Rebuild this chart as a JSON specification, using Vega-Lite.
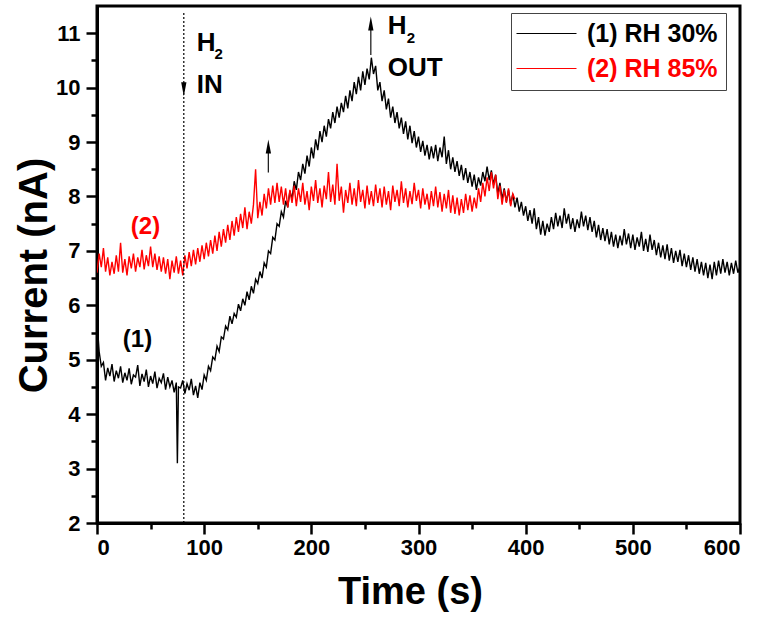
{
 "$schema": "https://vega.github.io/schema/vega-lite/v6.json",
 "width": 643,
 "height": 517,
 "autosize": "none",
 "padding": {"left": 97, "top": 6, "right": 27, "bottom": 98},
 "background": "white",
 "config": {
  "font": "Liberation Sans",
  "view": {"stroke": "black", "strokeWidth": 3},
  "axis": {"labelFont": "Liberation Sans", "labelFontWeight": "bold", "labelFontSize": 22, "labelColor": "black", "domainColor": "black", "domainWidth": 3, "tickColor": "black", "tickWidth": 2.5, "grid": false, "titleFont": "Liberation Sans", "titleFontWeight": "bold", "titleColor": "black"}
 },
 "datasets": {
  "black": [
   {"t":0,"c":5.72},{"t":2,"c":5.15},{"t":4,"c":4.88},{"t":6,"c":4.95},{"t":8,"c":4.62},{"t":10,"c":4.85},{"t":12,"c":4.70},{"t":14,"c":4.92},{"t":16,"c":4.60},{"t":18,"c":4.80},
   {"t":20,"c":4.66},{"t":22,"c":4.88},{"t":24,"c":4.58},{"t":26,"c":4.76},{"t":28,"c":4.62},{"t":30,"c":4.84},{"t":32,"c":4.55},{"t":34,"c":4.72},{"t":36,"c":4.68},{"t":38,"c":4.90},
   {"t":40,"c":4.52},{"t":42,"c":4.74},{"t":44,"c":4.60},{"t":46,"c":4.82},{"t":48,"c":4.50},{"t":50,"c":4.70},{"t":52,"c":4.56},{"t":54,"c":4.78},{"t":56,"c":4.48},{"t":58,"c":4.66},
   {"t":60,"c":4.58},{"t":62,"c":4.75},{"t":64,"c":4.45},{"t":66,"c":4.68},{"t":68,"c":4.50},{"t":70,"c":4.62},{"t":72,"c":4.40},{"t":74,"c":4.58},{"t":75,"c":3.10},{"t":76,"c":4.50},{"t":78,"c":4.48},
   {"t":80,"c":4.62},{"t":82,"c":4.38},{"t":84,"c":4.56},{"t":86,"c":4.44},{"t":88,"c":4.65},{"t":90,"c":4.35},{"t":92,"c":4.52},{"t":94,"c":4.30},{"t":96,"c":4.58},{"t":98,"c":4.45},
   {"t":100,"c":4.72},{"t":102,"c":4.62},{"t":104,"c":4.88},{"t":106,"c":4.80},{"t":108,"c":5.05},{"t":110,"c":5.00},{"t":112,"c":5.25},{"t":114,"c":5.15},{"t":116,"c":5.42},{"t":118,"c":5.38},
   {"t":120,"c":5.62},{"t":122,"c":5.55},{"t":124,"c":5.80},{"t":126,"c":5.66},{"t":128,"c":5.85},{"t":130,"c":5.78},{"t":132,"c":6.02},{"t":134,"c":5.90},{"t":136,"c":6.12},{"t":138,"c":6.00},
   {"t":140,"c":6.25},{"t":142,"c":6.10},{"t":144,"c":6.35},{"t":146,"c":6.22},{"t":148,"c":6.48},{"t":150,"c":6.40},{"t":152,"c":6.62},{"t":154,"c":6.50},{"t":156,"c":6.78},{"t":158,"c":6.70},
   {"t":160,"c":7.00},{"t":162,"c":6.95},{"t":164,"c":7.25},{"t":166,"c":7.20},{"t":168,"c":7.50},{"t":170,"c":7.45},{"t":172,"c":7.72},{"t":174,"c":7.62},{"t":176,"c":7.92},{"t":178,"c":7.80},
   {"t":180,"c":8.10},{"t":182,"c":7.95},{"t":184,"c":8.28},{"t":186,"c":8.12},{"t":188,"c":8.45},{"t":190,"c":8.30},{"t":192,"c":8.60},{"t":194,"c":8.42},{"t":196,"c":8.75},{"t":198,"c":8.55},
   {"t":200,"c":8.90},{"t":202,"c":8.70},{"t":204,"c":9.05},{"t":206,"c":8.85},{"t":208,"c":9.20},{"t":210,"c":9.00},{"t":212,"c":9.30},{"t":214,"c":9.10},{"t":216,"c":9.42},{"t":218,"c":9.25},
   {"t":220,"c":9.55},{"t":222,"c":9.35},{"t":224,"c":9.65},{"t":226,"c":9.45},{"t":228,"c":9.72},{"t":230,"c":9.55},{"t":232,"c":9.85},{"t":234,"c":9.62},{"t":236,"c":9.95},{"t":238,"c":9.75},
   {"t":240,"c":10.10},{"t":242,"c":9.88},{"t":244,"c":10.20},{"t":246,"c":9.95},{"t":248,"c":10.30},{"t":250,"c":10.05},{"t":252,"c":10.35},{"t":254,"c":10.15},{"t":256,"c":10.55},{"t":258,"c":10.25},
   {"t":260,"c":10.40},{"t":262,"c":9.95},{"t":264,"c":10.10},{"t":266,"c":9.75},{"t":268,"c":9.95},{"t":270,"c":9.60},{"t":272,"c":9.80},{"t":274,"c":9.45},{"t":276,"c":9.65},{"t":278,"c":9.35},
   {"t":280,"c":9.55},{"t":282,"c":9.25},{"t":284,"c":9.45},{"t":286,"c":9.15},{"t":288,"c":9.38},{"t":290,"c":9.05},{"t":292,"c":9.30},{"t":294,"c":8.98},{"t":296,"c":9.20},{"t":298,"c":8.90},
   {"t":300,"c":9.10},{"t":302,"c":8.82},{"t":304,"c":9.02},{"t":306,"c":8.75},{"t":308,"c":8.95},{"t":310,"c":8.68},{"t":312,"c":8.92},{"t":314,"c":8.70},{"t":316,"c":8.95},{"t":318,"c":8.65},
   {"t":320,"c":8.90},{"t":322,"c":8.72},{"t":324,"c":9.10},{"t":326,"c":8.60},{"t":328,"c":8.85},{"t":330,"c":8.50},{"t":332,"c":8.72},{"t":334,"c":8.45},{"t":336,"c":8.65},{"t":338,"c":8.38},
   {"t":340,"c":8.58},{"t":342,"c":8.30},{"t":344,"c":8.52},{"t":346,"c":8.25},{"t":348,"c":8.45},{"t":350,"c":8.18},{"t":352,"c":8.40},{"t":354,"c":8.12},{"t":356,"c":8.35},{"t":358,"c":8.20},
   {"t":360,"c":8.45},{"t":362,"c":8.28},{"t":364,"c":8.55},{"t":366,"c":8.30},{"t":368,"c":8.48},{"t":370,"c":8.22},{"t":372,"c":8.40},{"t":374,"c":8.05},{"t":376,"c":8.25},{"t":378,"c":7.95},
   {"t":380,"c":8.15},{"t":382,"c":7.90},{"t":384,"c":8.12},{"t":386,"c":7.85},{"t":388,"c":8.05},{"t":390,"c":7.80},{"t":392,"c":7.98},{"t":394,"c":7.72},{"t":396,"c":7.90},{"t":398,"c":7.65},
   {"t":400,"c":7.82},{"t":402,"c":7.55},{"t":404,"c":7.75},{"t":406,"c":7.50},{"t":408,"c":7.78},{"t":410,"c":7.40},{"t":412,"c":7.62},{"t":414,"c":7.30},{"t":416,"c":7.55},{"t":418,"c":7.28},
   {"t":420,"c":7.50},{"t":422,"c":7.35},{"t":424,"c":7.62},{"t":426,"c":7.40},{"t":428,"c":7.70},{"t":430,"c":7.45},{"t":432,"c":7.65},{"t":434,"c":7.42},{"t":436,"c":7.78},{"t":438,"c":7.50},
   {"t":440,"c":7.68},{"t":442,"c":7.40},{"t":444,"c":7.60},{"t":446,"c":7.35},{"t":448,"c":7.58},{"t":450,"c":7.42},{"t":452,"c":7.72},{"t":454,"c":7.45},{"t":456,"c":7.65},{"t":458,"c":7.38},
   {"t":460,"c":7.62},{"t":462,"c":7.35},{"t":464,"c":7.55},{"t":466,"c":7.25},{"t":468,"c":7.48},{"t":470,"c":7.20},{"t":472,"c":7.42},{"t":474,"c":7.18},{"t":476,"c":7.40},{"t":478,"c":7.12},
   {"t":480,"c":7.35},{"t":482,"c":7.08},{"t":484,"c":7.30},{"t":486,"c":7.05},{"t":488,"c":7.28},{"t":490,"c":7.10},{"t":492,"c":7.40},{"t":494,"c":7.12},{"t":496,"c":7.32},{"t":498,"c":7.05},
   {"t":500,"c":7.30},{"t":502,"c":7.02},{"t":504,"c":7.25},{"t":506,"c":7.08},{"t":508,"c":7.35},{"t":510,"c":7.00},{"t":512,"c":7.22},{"t":514,"c":6.98},{"t":516,"c":7.30},{"t":518,"c":7.02},
   {"t":520,"c":7.20},{"t":522,"c":6.92},{"t":524,"c":7.15},{"t":526,"c":6.88},{"t":528,"c":7.10},{"t":530,"c":6.85},{"t":532,"c":7.12},{"t":534,"c":6.82},{"t":536,"c":7.05},{"t":538,"c":6.78},
   {"t":540,"c":7.00},{"t":542,"c":6.80},{"t":544,"c":7.02},{"t":546,"c":6.72},{"t":548,"c":6.95},{"t":550,"c":6.70},{"t":552,"c":6.92},{"t":554,"c":6.65},{"t":556,"c":6.88},{"t":558,"c":6.62},
   {"t":560,"c":6.85},{"t":562,"c":6.58},{"t":564,"c":6.80},{"t":566,"c":6.55},{"t":568,"c":6.78},{"t":570,"c":6.50},{"t":572,"c":6.75},{"t":574,"c":6.48},{"t":576,"c":6.80},{"t":578,"c":6.55},
   {"t":580,"c":6.82},{"t":582,"c":6.58},{"t":584,"c":6.85},{"t":586,"c":6.60},{"t":588,"c":6.80},{"t":590,"c":6.55},{"t":592,"c":6.78},{"t":594,"c":6.58},{"t":596,"c":6.82},{"t":598,"c":6.60},
   {"t":600,"c":6.72}
  ],
  "red": [
   {"t":0,"c":6.60},{"t":2,"c":6.95},{"t":4,"c":6.70},{"t":6,"c":7.05},{"t":8,"c":6.62},{"t":10,"c":6.88},{"t":12,"c":6.55},{"t":14,"c":6.80},{"t":16,"c":6.58},{"t":18,"c":6.92},
   {"t":20,"c":6.62},{"t":22,"c":7.15},{"t":24,"c":6.60},{"t":26,"c":6.85},{"t":28,"c":6.55},{"t":30,"c":6.90},{"t":32,"c":6.68},{"t":34,"c":6.95},{"t":36,"c":6.62},{"t":38,"c":6.88},
   {"t":40,"c":6.70},{"t":42,"c":7.02},{"t":44,"c":6.66},{"t":46,"c":6.92},{"t":48,"c":6.72},{"t":50,"c":7.08},{"t":52,"c":6.70},{"t":54,"c":6.95},{"t":56,"c":6.65},{"t":58,"c":6.90},
   {"t":60,"c":6.62},{"t":62,"c":6.88},{"t":64,"c":6.58},{"t":66,"c":6.85},{"t":68,"c":6.48},{"t":70,"c":6.82},{"t":72,"c":6.60},{"t":74,"c":6.90},{"t":76,"c":6.58},{"t":78,"c":6.82},
   {"t":80,"c":6.55},{"t":82,"c":6.92},{"t":84,"c":6.68},{"t":86,"c":6.98},{"t":88,"c":6.72},{"t":90,"c":7.02},{"t":92,"c":6.75},{"t":94,"c":7.05},{"t":96,"c":6.80},{"t":98,"c":7.10},
   {"t":100,"c":6.85},{"t":102,"c":7.15},{"t":104,"c":6.90},{"t":106,"c":7.20},{"t":108,"c":6.95},{"t":110,"c":7.28},{"t":112,"c":7.00},{"t":114,"c":7.35},{"t":116,"c":7.08},{"t":118,"c":7.40},
   {"t":120,"c":7.15},{"t":122,"c":7.48},{"t":124,"c":7.20},{"t":126,"c":7.55},{"t":128,"c":7.28},{"t":130,"c":7.62},{"t":132,"c":7.35},{"t":134,"c":7.68},{"t":136,"c":7.42},{"t":138,"c":7.80},
   {"t":140,"c":7.40},{"t":142,"c":7.72},{"t":144,"c":7.50},{"t":146,"c":7.85},{"t":148,"c":8.50},{"t":150,"c":7.60},{"t":152,"c":7.90},{"t":154,"c":7.65},{"t":156,"c":8.05},{"t":158,"c":7.78},
   {"t":160,"c":8.15},{"t":162,"c":7.85},{"t":164,"c":8.20},{"t":166,"c":7.88},{"t":168,"c":8.25},{"t":170,"c":7.90},{"t":172,"c":8.18},{"t":174,"c":7.85},{"t":176,"c":8.15},{"t":178,"c":7.80},
   {"t":180,"c":8.12},{"t":182,"c":7.88},{"t":184,"c":8.20},{"t":186,"c":7.82},{"t":188,"c":8.15},{"t":190,"c":7.90},{"t":192,"c":8.25},{"t":194,"c":7.85},{"t":196,"c":8.10},{"t":198,"c":7.75},
   {"t":200,"c":8.18},{"t":202,"c":7.92},{"t":204,"c":8.30},{"t":206,"c":7.88},{"t":208,"c":8.15},{"t":210,"c":7.80},{"t":212,"c":8.20},{"t":214,"c":7.95},{"t":216,"c":8.45},{"t":218,"c":7.90},
   {"t":220,"c":8.22},{"t":222,"c":7.85},{"t":224,"c":8.60},{"t":226,"c":7.92},{"t":228,"c":8.18},{"t":230,"c":7.70},{"t":232,"c":8.12},{"t":234,"c":7.88},{"t":236,"c":8.25},{"t":238,"c":7.85},
   {"t":240,"c":8.15},{"t":242,"c":7.82},{"t":244,"c":8.30},{"t":246,"c":7.90},{"t":248,"c":8.12},{"t":250,"c":7.78},{"t":252,"c":8.20},{"t":254,"c":7.85},{"t":256,"c":8.10},{"t":258,"c":7.82},
   {"t":260,"c":8.22},{"t":262,"c":7.88},{"t":264,"c":8.15},{"t":266,"c":7.80},{"t":268,"c":8.18},{"t":270,"c":7.85},{"t":272,"c":8.10},{"t":274,"c":7.75},{"t":276,"c":8.20},{"t":278,"c":7.90},
   {"t":280,"c":8.12},{"t":282,"c":7.82},{"t":284,"c":8.28},{"t":286,"c":7.88},{"t":288,"c":8.15},{"t":290,"c":7.80},{"t":292,"c":8.10},{"t":294,"c":7.86},{"t":296,"c":8.25},{"t":298,"c":7.92},
   {"t":300,"c":8.12},{"t":302,"c":7.78},{"t":304,"c":8.15},{"t":306,"c":7.85},{"t":308,"c":8.05},{"t":310,"c":7.76},{"t":312,"c":8.10},{"t":314,"c":7.82},{"t":316,"c":8.18},{"t":318,"c":7.80},
   {"t":320,"c":8.08},{"t":322,"c":7.72},{"t":324,"c":8.05},{"t":326,"c":7.78},{"t":328,"c":8.12},{"t":330,"c":7.70},{"t":332,"c":8.02},{"t":334,"c":7.68},{"t":336,"c":7.98},{"t":338,"c":7.65},
   {"t":340,"c":7.95},{"t":342,"c":7.70},{"t":344,"c":8.05},{"t":346,"c":7.75},{"t":348,"c":8.02},{"t":350,"c":7.72},{"t":352,"c":7.98},{"t":354,"c":7.78},{"t":356,"c":8.15},{"t":358,"c":7.90},
   {"t":360,"c":8.25},{"t":362,"c":8.00},{"t":364,"c":8.35},{"t":366,"c":8.10},{"t":368,"c":8.45},{"t":370,"c":8.15},{"t":372,"c":8.40},{"t":374,"c":7.95},{"t":376,"c":8.20},{"t":378,"c":7.85},
   {"t":380,"c":8.12},{"t":382,"c":7.88},{"t":384,"c":8.15},{"t":386,"c":7.82},{"t":388,"c":8.05},{"t":390,"c":7.95}
  ]
 },
 "resolve": {"axis": {"x": "independent", "y": "independent"}},
 "layer": [
  {
   "data": {"name": "black"},
   "mark": {"type": "line", "strokeWidth": 1.4, "clip": true},
   "encoding": {
    "x": {"field": "t", "type": "quantitative", "scale": {"domain": [0, 600], "nice": false, "zero": false},
      "axis": {"orient": "bottom", "values": [0,100,200,300,400,500,600], "format": "d", "tickSize": 11, "labelPadding": 3, "title": "Time (s)", "titleFontSize": 38, "titleX": 313, "titleY": 80, "titleBaseline": "alphabetic", "titleAlign": "center"}},
    "y": {"field": "c", "type": "quantitative", "scale": {"domain": [2, 11.5], "nice": false, "zero": false},
      "axis": {"orient": "left", "values": [2,3,4,5,6,7,8,9,10,11], "format": "d", "tickSize": 11, "labelPadding": 6, "title": "Current (nA)", "titleFontSize": 40, "titleAngle": 270, "titleX": -63, "titleY": 269, "titleBaseline": "middle", "titleAlign": "center"}},
    "color": {"datum": "(1) RH 30%", "type": "nominal",
      "scale": {"domain": ["(1) RH 30%", "(2) RH 85%"], "range": ["#000000", "#ff0000"]},
      "legend": {"orient": "none", "legendX": 414, "legendY": 7, "title": null, "symbolType": "M-1.5,0H4.5", "symbolSize": 400, "symbolStrokeWidth": 1, "labelFont": "Liberation Sans", "labelFontSize": 25, "labelFontWeight": "bold", "labelOffset": 43, "strokeColor": "#444444", "fillColor": "white", "padding": 8, "rowPadding": 9,
        "encode": {"labels": {"update": {"fill": {"signal": "datum.value === '(2) RH 85%' ? '#ff0000' : '#000000'"}}}}}}
   }
  },
  {
   "data": {"name": "red"},
   "mark": {"type": "line", "strokeWidth": 1.4, "clip": true},
   "encoding": {
    "x": {"field": "t", "type": "quantitative", "axis": null},
    "y": {"field": "c", "type": "quantitative", "axis": null},
    "color": {"datum": "(2) RH 85%", "type": "nominal"}
   }
  },
  {
   "data": {"values": [{"t": 81, "a": 2, "b": 11.4}]},
   "mark": {"type": "rule", "color": "black", "strokeWidth": 1.2, "strokeDash": [2, 2]},
   "encoding": {
    "x": {"field": "t", "type": "quantitative", "axis": {"orient": "bottom", "values": [50,150,250,350,450,550], "tickSize": 6, "labels": false, "domain": false, "title": null}},
    "y": {"field": "a", "type": "quantitative", "axis": {"orient": "left", "values": [2.5,3.5,4.5,5.5,6.5,7.5,8.5,9.5,10.5], "tickSize": 6, "labels": false, "domain": false, "title": null}},
    "y2": {"field": "b"}
   }
  },
  {
   "data": {"values": [{"t": 255.5, "a": 10.6, "b": 11.15}, {"t": 159.9, "a": 8.44, "b": 8.9}]},
   "mark": {"type": "rule", "color": "#222222", "strokeWidth": 1.3},
   "encoding": {
    "x": {"field": "t", "type": "quantitative", "axis": null},
    "y": {"field": "a", "type": "quantitative", "axis": null},
    "y2": {"field": "b"}
   }
  },
  {
   "data": {"values": [{"t": 255.5, "v": 11.18}, {"t": 159.9, "v": 8.92}]},
   "mark": {"type": "point", "shape": "M0,-1L0.38,1L-0.38,1Z", "filled": true, "color": "black", "opacity": 1, "size": 196},
   "encoding": {
    "x": {"field": "t", "type": "quantitative", "axis": null},
    "y": {"field": "v", "type": "quantitative", "axis": null}
   }
  },
  {
   "data": {"values": [{"t": 81, "v": 9.97}]},
   "mark": {"type": "point", "shape": "M0,1L0.38,-1L-0.38,-1Z", "filled": true, "color": "black", "opacity": 1, "size": 196},
   "encoding": {
    "x": {"field": "t", "type": "quantitative", "axis": null},
    "y": {"field": "v", "type": "quantitative", "axis": null}
   }
  },
  {
   "data": {"values": [{"t": 93, "v": 10.67, "s": "H"}, {"t": 93, "v": 9.91, "s": "IN"}, {"t": 271.3, "v": 10.98, "s": "H"}, {"t": 271.3, "v": 10.21, "s": "OUT"}]},
   "mark": {"type": "text", "font": "Liberation Sans", "fontWeight": "bold", "fontSize": 26, "align": "left", "baseline": "alphabetic", "color": "black"},
   "encoding": {
    "x": {"field": "t", "type": "quantitative", "axis": null},
    "y": {"field": "v", "type": "quantitative", "axis": null},
    "text": {"field": "s"}
   }
  },
  {
   "data": {"values": [{"t": 109.7, "v": 10.52, "s": "2"}, {"t": 289, "v": 10.82, "s": "2"}]},
   "mark": {"type": "text", "font": "Liberation Sans", "fontWeight": "bold", "fontSize": 15, "align": "left", "baseline": "alphabetic", "color": "black"},
   "encoding": {
    "x": {"field": "t", "type": "quantitative", "axis": null},
    "y": {"field": "v", "type": "quantitative", "axis": null},
    "text": {"field": "s"}
   }
  },
  {
   "data": {"values": [{"t": 37.8, "v": 5.37, "s": "(1)"}]},
   "mark": {"type": "text", "font": "Liberation Sans", "fontWeight": "bold", "fontSize": 24, "align": "center", "baseline": "middle", "color": "black"},
   "encoding": {
    "x": {"field": "t", "type": "quantitative", "axis": null},
    "y": {"field": "v", "type": "quantitative", "axis": null},
    "text": {"field": "s"}
   }
  },
  {
   "data": {"values": [{"t": 45.3, "v": 7.43, "s": "(2)"}]},
   "mark": {"type": "text", "font": "Liberation Sans", "fontWeight": "bold", "fontSize": 24, "align": "center", "baseline": "middle", "color": "#ff0000"},
   "encoding": {
    "x": {"field": "t", "type": "quantitative", "axis": null},
    "y": {"field": "v", "type": "quantitative", "axis": null},
    "text": {"field": "s"}
   }
  }
 ]
}
